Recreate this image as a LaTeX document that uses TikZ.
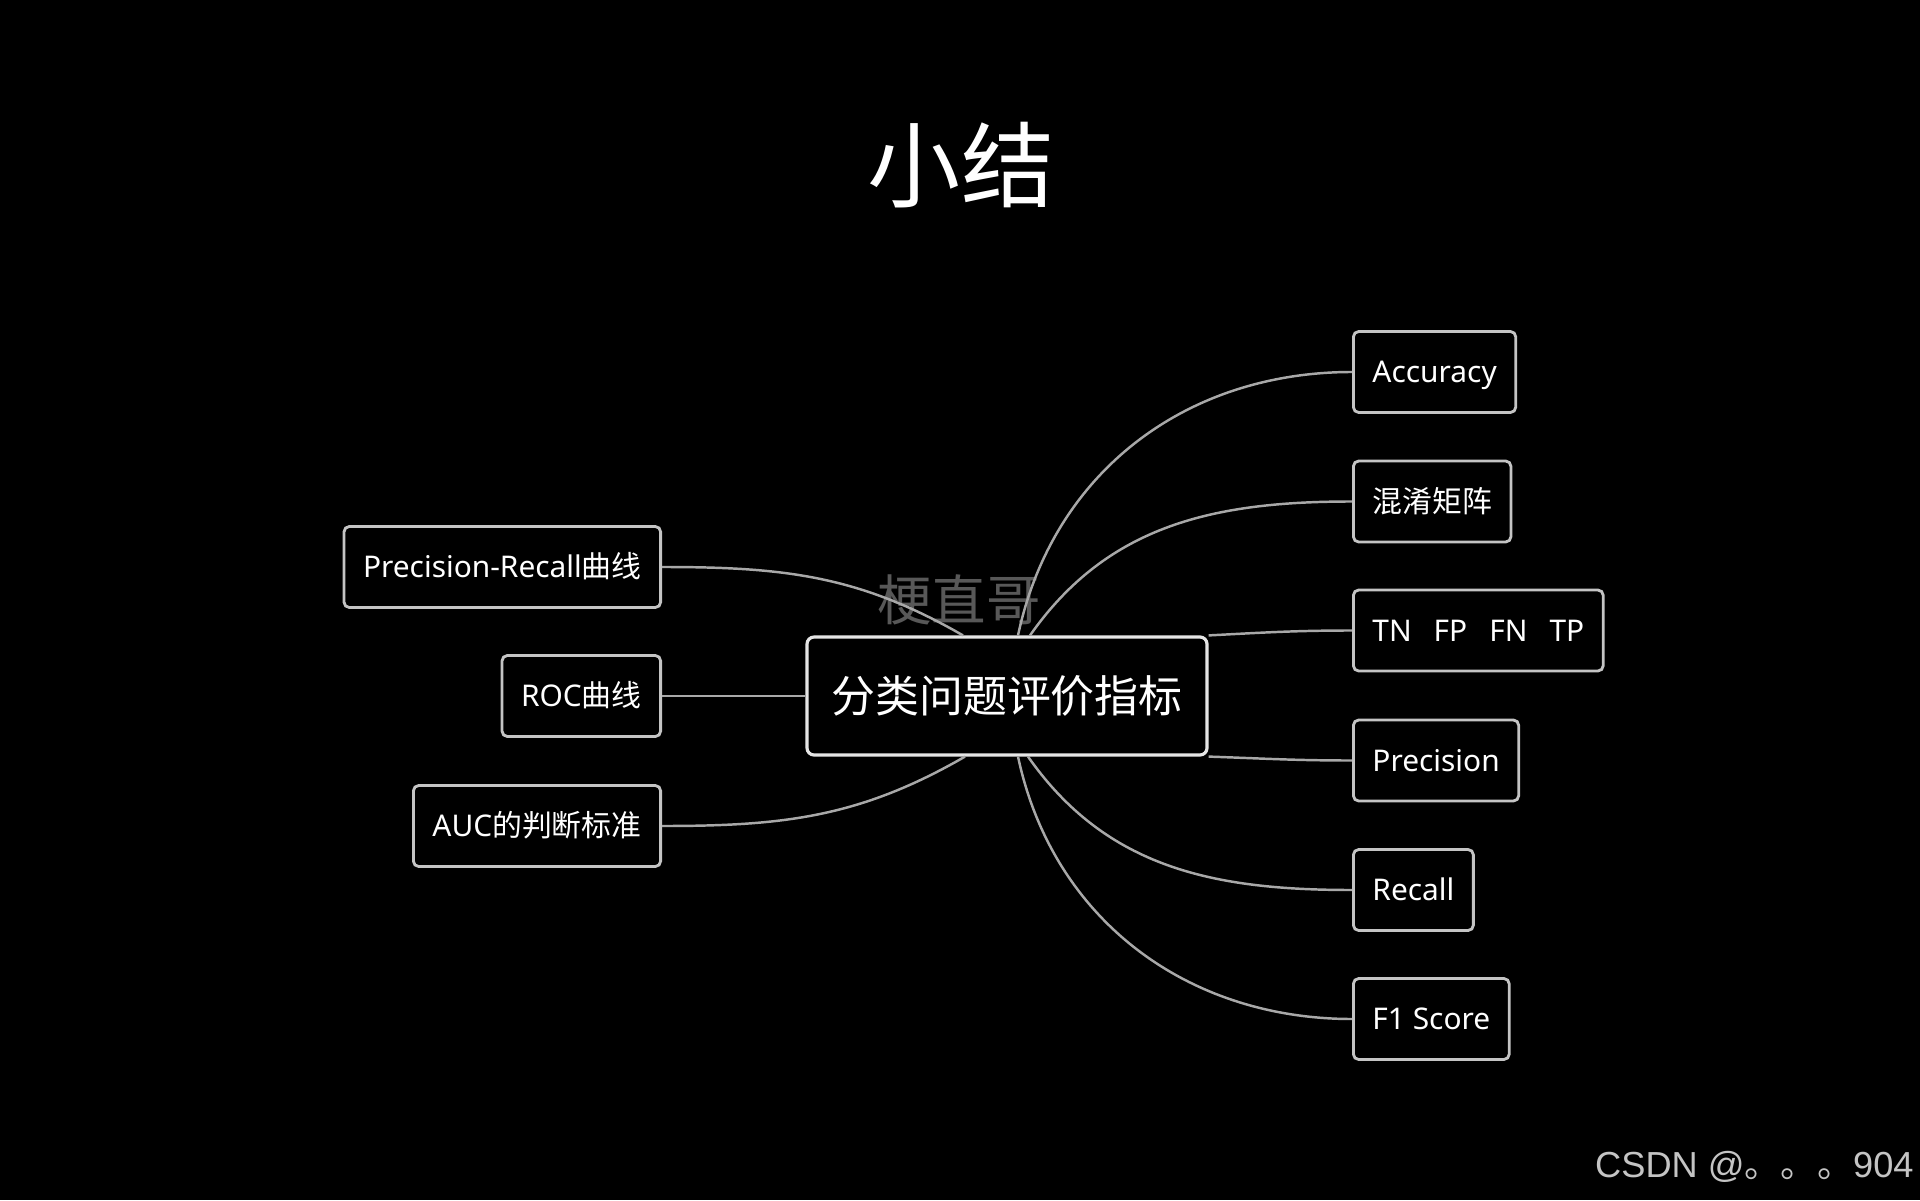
\documentclass[tikz,border=0pt]{standalone}
\usepackage{fontspec}
\setmainfont{Noto Sans}
\newfontfamily\cjk{Noto Sans CJK SC}
\newfontfamily\csdnfont{Liberation Sans}
\usetikzlibrary{positioning}

\definecolor{boxgray}{HTML}{C4C4C4}
\definecolor{linegray}{HTML}{A8A8A8}
\definecolor{wmgray}{HTML}{585858}

\tikzset{
  leaf/.style={draw=boxgray, line width=0.8pt, rounded corners=1.5pt, text=white,
    inner xsep=0.19cm, minimum height=0.81cm, text height=0.78em, text depth=0.18em,
    font=\fontsize{8.5pt}{10pt}\selectfont},
  rootbox/.style={draw=white!90!black, line width=0.9pt, rounded corners=2pt, text=white,
    minimum width=4cm, minimum height=1.18cm, font=\fontsize{12.5pt}{14pt}\selectfont\cjk},
  branch/.style={draw=linegray, line width=0.7pt},
}

\begin{document}
\begin{tikzpicture}

  \fill[black] (0,0) rectangle (19.2,12);
  \useasboundingbox (0,0) rectangle (19.2,12);

  \node[text=white, font=\fontsize{26.5pt}{30pt}\selectfont\cjk] (title) at (9.61,10.35) {小结};
  \node[text=wmgray, font=\fontsize{15.5pt}{18pt}\selectfont\cjk] (wm) at (9.59,6.0) {梗直哥};

  \node[rootbox] (root) at (10.07,5.04) {分类问题评价指标};

  \node[leaf, anchor=west] (acc)  at (13.52,8.28)  {Accuracy};
  \node[leaf, anchor=west] (conf) at (13.52,6.985) {\cjk 混淆矩阵};
  \node[leaf, anchor=west] (tnfp) at (13.52,5.695) {TN\hspace{.22cm}FP\hspace{.22cm}FN\hspace{.22cm}TP};
  \node[leaf, anchor=west] (prec) at (13.52,4.395) {Precision};
  \node[leaf, anchor=west] (rec)  at (13.52,3.10)  {Recall};
  \node[leaf, anchor=west] (fone) at (13.52,1.81)  {F1 Score};

  \node[leaf, anchor=east] (prc) at (6.62,6.33) {Precision-Recall{\cjk 曲线}};
  \node[leaf, anchor=east] (roc) at (6.62,5.04) {ROC{\cjk 曲线}};
  \node[leaf, anchor=east] (auc) at (6.62,3.74) {AUC{\cjk 的判断标准}};

  \draw[branch] ([xshift=1.1mm]root.north) to[out=78,in=180] (acc.west);
  \draw[branch] ([xshift=2.3mm]root.north) to[out=55,in=180] (conf.west);
  \draw[branch] (root.north east) to[out=3,in=180] (tnfp.west);
  \draw[branch] (root.south east) to[out=-2,in=180] (prec.west);
  \draw[branch] ([xshift=2.1mm]root.south) to[out=-55,in=180] (rec.west);
  \draw[branch] ([xshift=1.1mm]root.south) to[out=-78,in=180] (fone.west);

  \draw[branch] (prc.east) to[out=0,in=150] ([xshift=-4.4mm]root.north);
  \draw[branch] (roc.east) -- (root.west);
  \draw[branch] (auc.east) to[out=0,in=210] ([xshift=-4.2mm]root.south);

  \node[text=boxgray, anchor=east, font=\fontsize{10.3pt}{12pt}\selectfont\csdnfont] (csdn) at (19.26,0.33) {CSDN @{\cjk 。。。}904};

\end{tikzpicture}
\end{document}
